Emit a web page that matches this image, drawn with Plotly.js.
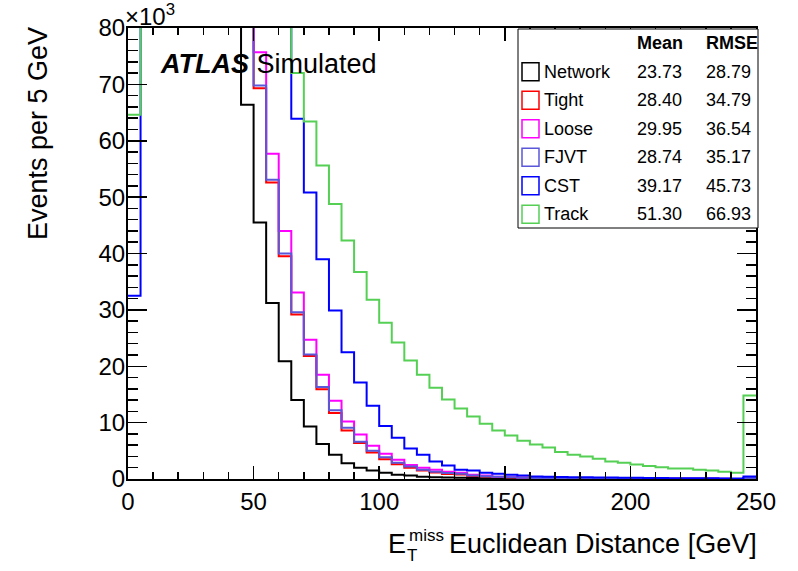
<!DOCTYPE html>
<html>
<head>
<meta charset="utf-8">
<script src="https://cdn.plot.ly/plotly-3.0.1.min.js"></script>
<style>
  html, body { margin: 0; padding: 0; background: #fff; }
  #chart { width: 798px; height: 571px; }
</style>
</head>
<body>
<div id="chart"></div>
<script>
// 5 GeV bins from 0 to 250, counts in units of 10^3 events
var binEdges = [0,5,10,15,20,25,30,35,40,45,50,55,60,65,70,75,80,85,90,95,100,105,110,115,120,125,130,135,140,145,150,155,160,165,170,175,180,185,190,195,200,205,210,215,220,225,230,235,240,245,250];

var network = [118,150,172,178,170,152,128,104,86,66.4,45.5,31.2,20.9,14.0,9.3,6.2,4.3,2.8,2.0,1.5,1.1,0.77,0.6,0.42,0.33,0.26,0.2,0.16,0.13,0.1,0.08,0.07,0.06,0.05,0.05,0.04,0.04,0.03,0.03,0.03,0.02,0.02,0.02,0.02,0.02,0.01,0.01,0.01,0.01,0.12];
var tight   = [95,130,150,160,155,145,130,115,100,88,69.3,52.6,39.5,29.2,21.8,15.9,11.7,8.6,6.4,4.7,3.5,2.6,2.0,1.5,1.15,0.9,0.8,0.55,0.45,0.35,0.28,0.22,0.18,0.15,0.12,0.1,0.09,0.08,0.07,0.06,0.05,0.05,0.04,0.04,0.03,0.03,0.03,0.02,0.02,0.15];
var loose   = [90,122,142,152,150,140,126,112,98,86,75.7,57.7,44.0,33.1,24.7,18.5,13.9,10.2,7.9,5.9,4.5,3.4,2.5,2.0,1.65,1.3,1.1,0.77,0.6,0.42,0.34,0.28,0.22,0.18,0.15,0.12,0.1,0.09,0.08,0.07,0.06,0.05,0.05,0.04,0.04,0.03,0.03,0.03,0.02,0.18];
var fjvt    = [94,128,148,158,154,144,129,114,99,87,69.8,53.1,40.0,29.6,22.1,16.3,12.2,9.1,6.6,5.0,3.85,2.9,2.2,1.65,1.3,1.05,0.95,0.6,0.48,0.38,0.3,0.24,0.19,0.16,0.13,0.11,0.1,0.09,0.08,0.07,0.06,0.05,0.05,0.04,0.04,0.03,0.03,0.03,0.02,0.16];
var cst     = [32.5,88,110,120,124,122,118,112,105,98,92,87,82,63.9,50.8,39.0,29.9,22.5,17.1,13.0,9.4,7.3,5.4,4.3,3.1,2.4,1.65,1.5,1.1,0.95,0.76,0.6,0.45,0.4,0.36,0.32,0.3,0.27,0.25,0.22,0.2,0.18,0.17,0.15,0.14,0.13,0.12,0.11,0.1,0.45];
var track   = [64.6,95,110,118,120,118,114,109,103,97,91,86,82,72.0,63.4,55.6,48.8,42.3,36.7,31.8,27.7,24.2,21.0,18.5,16.2,14.1,12.5,11.1,9.8,8.6,7.7,6.8,6.1,5.6,4.8,4.3,4.0,3.6,3.1,2.9,2.55,2.3,2.1,1.85,1.85,1.65,1.5,1.3,1.1,14.8];

var names  = ["Network","Tight","Loose","FJVT","CST","Track"];
var means  = ["23.73","28.40","29.95","28.74","39.17","51.30"];
var rmses  = ["28.79","34.79","36.54","35.17","45.73","66.93"];
var colors = ["#000000","#ff0000","#ff00ff","#5a57d9","#0000ff","#55d055"];
var series = [network, tight, loose, fjvt, cst, track];

var FONT = "Liberation Sans, Arial, Helvetica, sans-serif";
var W = 798, H = 571, L = 128, R = 42, T = 28, B = 92;
function px(x) { return (x - L) / (W - L - R); }
function py(y) { return (H - B - y) / (H - T - B); }

// histogram outline as steps; the rise at x=0 and the drop at x=250 sit on the frame
function stepTrace(vals, color) {
  var xs = [], ys = [];
  for (var i = 0; i < vals.length; i++) { xs.push(binEdges[i]); ys.push(vals[i]); }
  xs.push(binEdges[binEdges.length - 1]); ys.push(vals[vals.length - 1]);
  return { x: xs, y: ys, type: "scatter", mode: "lines",
           line: { shape: "hv", color: color, width: 2 },
           showlegend: false, hoverinfo: "skip" };
}

var data = [];
for (var s = 0; s < series.length; s++) data.push(stepTrace(series[s], colors[s]));

var annotations = [], shapes = [];

// legend box with statistics
shapes.push({ type: "rect", xref: "paper", yref: "paper",
  x0: px(518), x1: px(758), y0: py(228), y1: py(29),
  line: { color: "#000", width: 1 }, fillcolor: "rgba(255,255,255,1)", layer: "above" });
annotations.push({ text: "<b>Mean</b>", x: px(635), y: py(43), xanchor: "left" });
annotations.push({ text: "<b>RMSE</b>", x: px(704), y: py(43), xanchor: "left" });
for (var i = 0; i < names.length; i++) {
  var cy = 71.7 + i * 28.5;
  shapes.push({ type: "rect", xref: "paper", yref: "paper",
    x0: px(522), x1: px(539), y0: py(cy + 9), y1: py(cy - 9),
    line: { color: colors[i], width: 1.5 }, layer: "above" });
  annotations.push({ text: names[i], x: px(541.5), y: py(cy), xanchor: "left" });
  annotations.push({ text: means[i], x: px(634.5), y: py(cy), xanchor: "left" });
  annotations.push({ text: rmses[i], x: px(704), y: py(cy), xanchor: "left" });
}
annotations.forEach(function (a) {
  a.xref = "paper"; a.yref = "paper"; a.yanchor = "middle"; a.showarrow = false;
  a.font = { family: FONT, size: 18, color: "#000" };
});

var big = { family: FONT, size: 27, color: "#000" };
var small = { family: FONT, size: 17, color: "#000" };
function note(text, x, y, xa, font, extra) {
  var a = { text: text, xref: "paper", yref: "paper", x: px(x), y: py(y),
            xanchor: xa, yanchor: "middle", showarrow: false, font: font };
  for (var k in extra) a[k] = extra[k];
  annotations.push(a);
}
note("<b><i>ATLAS</i></b> Simulated", 158, 64, "left", big);
note("×10<sup>3</sup>", 123, 15, "left", { family: FONT, size: 24, color: "#000" });
note("Euclidean Distance [GeV]", 759, 544, "right", big);
note("E", 408, 544, "right", big);
note("T", 405, 555, "left", small);
note("miss", 406.5, 535, "left", small);
note("Events per 5 GeV", 38, 134, "center", big, { textangle: -90 });

var axisCommon = {
  showgrid: false, zeroline: false, showline: true, linecolor: "#000", linewidth: 2,
  mirror: "ticks", ticks: "inside", tickcolor: "#000", tickwidth: 1.5,
  layer: "above traces",
  tickfont: { family: FONT, size: 24, color: "#000" }
};

var layout = {
  width: W, height: H,
  margin: { l: L, r: R, t: T, b: B },
  paper_bgcolor: "#fff", plot_bgcolor: "#fff",
  xaxis: Object.assign({}, axisCommon, {
    range: [0, 250], dtick: 50, ticklen: 13,
    minor: { dtick: 10, ticks: "inside", ticklen: 7, tickcolor: "#000", tickwidth: 1.5 }
  }),
  yaxis: Object.assign({}, axisCommon, {
    range: [0, 80], dtick: 10, ticklen: 19, ticklabelstandoff: -4,
    minor: { dtick: 2, ticks: "inside", ticklen: 10, tickcolor: "#000", tickwidth: 1.5 }
  }),
  annotations: annotations,
  shapes: shapes
};

Plotly.newPlot(document.getElementById("chart"), data, layout, { displayModeBar: false, staticPlot: true });
</script>
</body>
</html>
